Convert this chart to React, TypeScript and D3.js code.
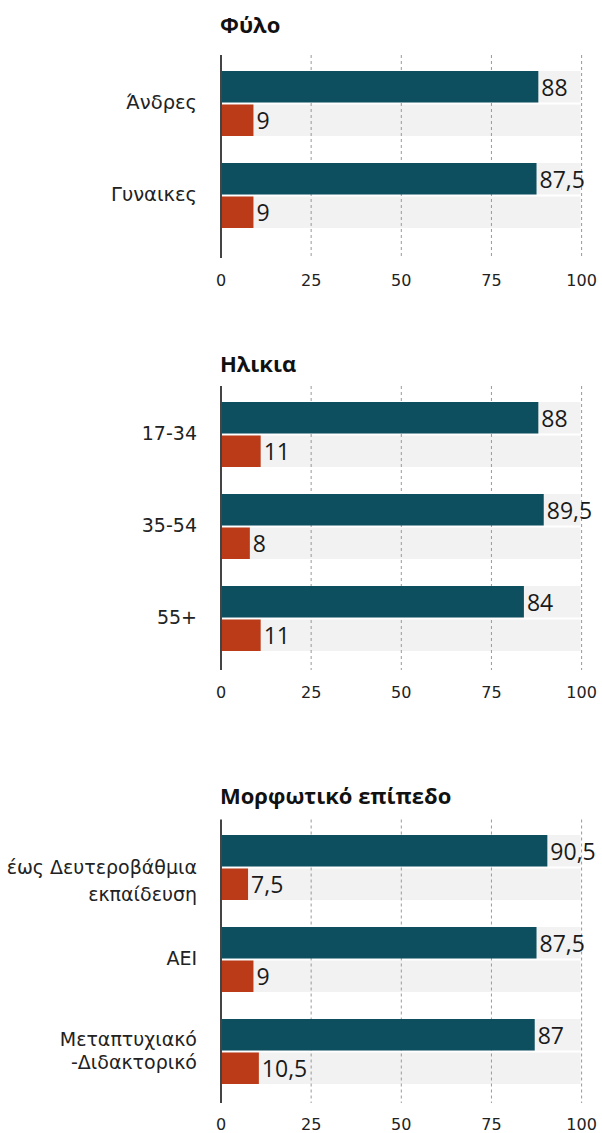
import React from "react";
import * as d3 from "d3";

// ---- data ----
const panelTitles = ["Φύλο", "Ηλικια", "Μορφωτικό επίπεδο"];
const genderCategories = ["Άνδρες", "Γυναικες"];
const genderSeriesA = [88, 87.5];
const genderSeriesB = [9, 9];
const ageCategories = ["17-34", "35-54", "55+"];
const ageSeriesA = [88, 89.5, 84];
const ageSeriesB = [11, 8, 11];
const eduCategories = ["έως Δευτεροβάθμια|εκπαίδευση", "ΑΕΙ", "Μεταπτυχιακό|-Διδακτορικό"];
const eduSeriesA = [90.5, 87.5, 87];
const eduSeriesB = [7.5, 9, 10.5];
const xTicks = [0, 25, 50, 75, 100];
const seriesKeys = ["a", "b"];

// ---- layout ----
const W = 602;
const H = 1133;
const X0 = 221;
const X1 = 581.6;
const STEP = 92;
const BAND = 65;
const layouts = [
  { titleY: 33, axisTop: 55, bandStart: 71, axisBottom: 258, tickBase: 285.5, labelShift: [0, 0], labelLH: [23, 23], labelSize: [19.5, 19.5] },
  { titleY: 372, axisTop: 386, bandStart: 402, axisBottom: 670, tickBase: 697.5, labelShift: [0, 0, 0], labelLH: [23, 23, 23], labelSize: [19, 19, 19] },
  { titleY: 804, axisTop: 819.5, bandStart: 835, axisBottom: 1103, tickBase: 1129.5, labelShift: [14, 0, 0], labelLH: [27, 23, 23], labelSize: [19, 19, 19] },
];
const COLORS: Record<string, string> = { a: "#0d4f5f", b: "#bb3a18" };
const FONT = "'Open Sans', 'Noto Sans', sans-serif";
const LABEL_FONT = "'DejaVu Sans', sans-serif";

const fmt = (v: number) => String(v).replace(".", ",");

type PanelProps = {
  title: string;
  cats: string[];
  a: number[];
  b: number[];
  lay: (typeof layouts)[number];
};

function Panel({ title, cats, a, b, lay }: PanelProps) {
  const x = d3.scaleLinear().domain([0, 100]).range([X0, X1]);
  const n = cats.length;
  const pInner = (STEP - BAND) / STEP;
  const y = d3
    .scaleBand<string>()
    .domain(cats)
    .range([lay.bandStart, lay.bandStart + STEP * n - (STEP - BAND)])
    .paddingInner(pInner)
    .paddingOuter(0);
  const sub = d3.scaleBand<string>().domain(seriesKeys).range([0, y.bandwidth()]).paddingInner(0.06);
  const vals: Record<string, number[]> = { a, b };
  return (
    <g>
      <text x={X0 - 1} y={lay.titleY} fontFamily={FONT} fontWeight={700} fontSize={22} fill="#111">
        {title}
      </text>
      {cats.map((c) => (
        <g key={"bg" + c}>
          {seriesKeys.map((k) => (
            <rect
              key={k}
              x={x(0)}
              y={(y(c) as number) + (sub(k) as number)}
              width={x(100) - x(0) - 1}
              height={sub.bandwidth()}
              fill="#f2f2f2"
            />
          ))}
        </g>
      ))}
      {xTicks
        .filter((t) => t > 0)
        .map((t) => (
          <line
            key={"g" + t}
            x1={x(t)}
            x2={x(t)}
            y1={lay.axisTop}
            y2={lay.axisBottom}
            stroke="#999"
            strokeWidth={1}
            strokeDasharray="3,3"
          />
        ))}
      {cats.map((c, i) => (
        <g key={"bar" + c}>
          {seriesKeys.map((k) => {
            const v = vals[k][i];
            const yy = (y(c) as number) + (sub(k) as number);
            return (
              <g key={k}>
                <rect x={x(0)} y={yy} width={x(v) - x(0)} height={sub.bandwidth()} fill={COLORS[k]} />
                <text
                  x={x(v) + 3}
                  y={yy + sub.bandwidth() / 2}
                  dominantBaseline="central"
                  fontFamily={FONT}
                  fontSize={23}
                  fill="#1a1a1a"
                >
                  {fmt(v)}
                </text>
              </g>
            );
          })}
          {(() => {
            const lines = c.split("|");
            const cy = (y(c) as number) + y.bandwidth() / 2;
            const lh = lay.labelLH[i];
            const shift = lay.labelShift[i];
            return lines.map((ln, j) => (
              <text
                key={j}
                x={197}
                y={cy + 5.5 + shift + (j - (lines.length - 1) / 2) * lh}
                textAnchor="end"
                fontFamily={LABEL_FONT}
                fontSize={lay.labelSize[i]}
                fill="#222"
              >
                {ln}
              </text>
            ));
          })()}
        </g>
      ))}
      <line x1={X0} x2={X0} y1={lay.axisTop} y2={lay.axisBottom} stroke="#444" strokeWidth={2} />
      {xTicks.map((t) => (
        <text
          key={"t" + t}
          x={x(t)}
          y={lay.tickBase}
          textAnchor="middle"
          fontFamily={LABEL_FONT}
          fontSize={16}
          fill="#222"
        >
          {t}
        </text>
      ))}
    </g>
  );
}

export default function App() {
  const panels = [
    { cats: genderCategories, a: genderSeriesA, b: genderSeriesB },
    { cats: ageCategories, a: ageSeriesA, b: ageSeriesB },
    { cats: eduCategories, a: eduSeriesA, b: eduSeriesB },
  ];
  return (
    <svg
      width={W}
      height={H}
      style={{ position: "absolute", left: 0, top: 0, display: "block", background: "#fff" }}
    >
      {panels.map((p, i) => (
        <Panel key={i} title={panelTitles[i]} cats={p.cats} a={p.a} b={p.b} lay={layouts[i]} />
      ))}
    </svg>
  );
}
